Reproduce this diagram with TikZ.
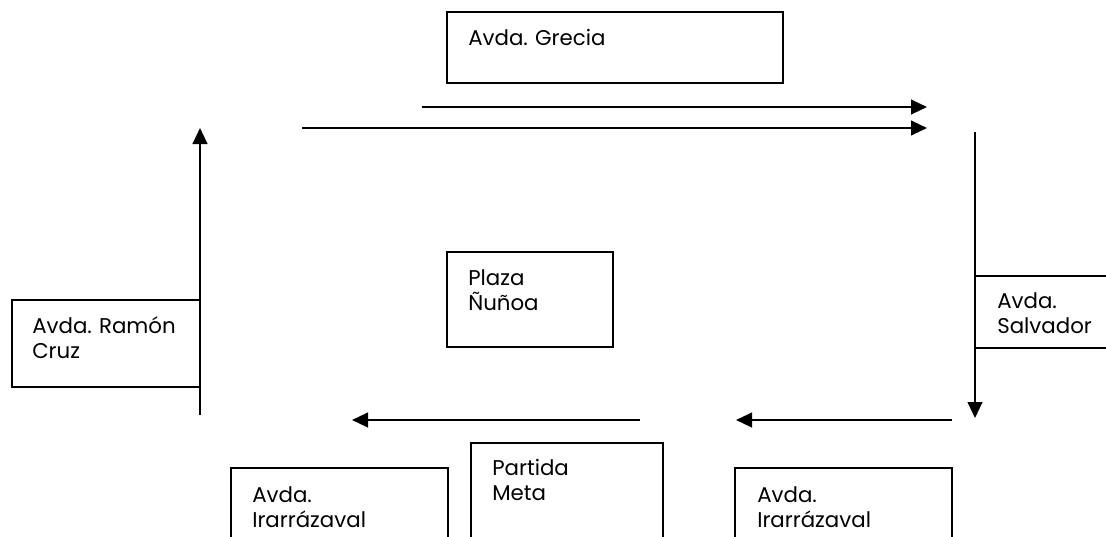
\documentclass[tikz,border=0pt]{standalone}
\usepackage{fontspec}
\setmainfont{Poppins}
\usetikzlibrary{arrows.meta,positioning}

\begin{document}
\begin{tikzpicture}[
    x=0.75pt,
    y=-0.75pt,
    block/.style={draw, line width=1.4pt},
    roadname/.style={
        anchor=base west,
        inner sep=0pt,
        text width=150pt,
        align=left,
        font=\fontsize{16}{19.4}\selectfont\frenchspacing
    },
    road/.style={line width=1.6pt, -{Triangle[length=12pt,width=11pt]}}
]

% ---------------- Frame ----------------
\clip (0,0) rectangle (1106,536);

% ---------------- Blocks ----------------
\draw[block] (447,12) rectangle (783,83);
\node[roadname] (grecia) at (468,45) {Avda. Grecia};

\draw[block] (12,300) rectangle (200,387);
\node[roadname] (ramon) at (32,333) {Avda. Ramón\\Cruz};

\draw[block] (975,276) rectangle (1130,348);
\node[roadname] (salvador) at (997,308) {Avda.\\Salvador};

\draw[block] (447,252) rectangle (613,347);
\node[roadname] (plaza) at (468,285) {Plaza\\Ñuñoa};

\draw[block] (231,468) rectangle (448,570);
\node[roadname] (irarrazavalL) at (252,502) {Avda.\\Irarrázaval};

\draw[block] (471,443) rectangle (663,570);
\node[roadname] (partida) at (492,475) {Partida\\Meta};

\draw[block] (735,468) rectangle (952,570);
\node[roadname] (irarrazavalR) at (757,502) {Avda.\\Irarrázaval};

% ---------------- Traffic ----------------
\coordinate (n1a) at (422,107);
\coordinate (n1b) at (927,107);
\coordinate (n2a) at (302,128);
\coordinate (n2b) at (927,128);
\coordinate (wa) at (200,415);
\coordinate (wb) at (200,128);
\coordinate (ea) at (975,132);
\coordinate (eb) at (975,418);
\coordinate (s1a) at (952,420);
\coordinate (s1b) at (736,420);
\coordinate (s2a) at (640,420);
\coordinate (s2b) at (352,420);

\draw[road] (n1a) -- (n1b);
\draw[road] (n2a) -- (n2b);
\draw[road] (wa) -- (wb);
\draw[road] (ea) -- (eb);
\draw[road] (s1a) -- (s1b);
\draw[road] (s2a) -- (s2b);

\end{tikzpicture}
\end{document}
